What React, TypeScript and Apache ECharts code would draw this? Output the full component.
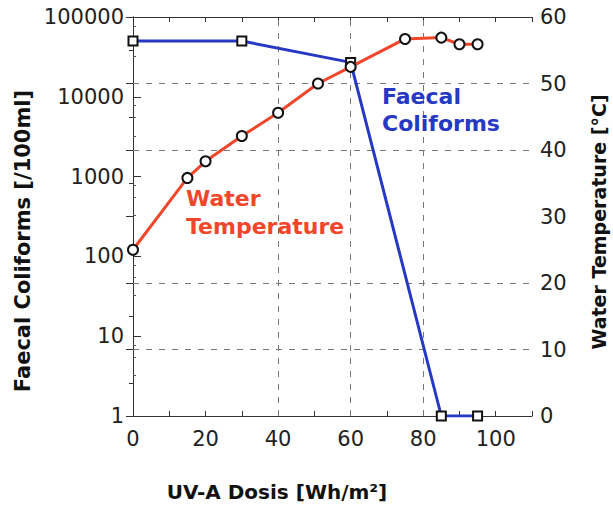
import React, { useEffect, useRef } from "react";
import * as echarts from "echarts";

// UV-A dose [Wh/m2] for each measurement
const coliformDose = [0, 30, 60, 85, 95];
const coliformValues = [50000, 50000, 27000, 1, 1];

const tempDose = [0, 15, 20, 30, 40, 51, 60, 75, 85, 90, 95];
const tempValues = [25, 35.8, 38.3, 42.1, 45.6, 50, 52.5, 56.7, 56.9, 55.9, 55.9];

const xTickLabels = [0, 20, 40, 60, 80, 100];
const leftTickLabels = [1, 10, 100, 1000, 10000, 100000];
const rightTickLabels = [0, 10, 20, 30, 40, 50, 60];

const hGridTemps = [10, 20, 40, 50];
const vGridDoses = [40, 60, 80];

const RED = "#f2462b";
const BLUE = "#2638c4";
const TXT = "#222";
const FONT = "DejaVu Sans";

export default function App() {
  const ref = useRef<HTMLDivElement>(null);
  useEffect(() => {
    if (!ref.current) return;
    const chart = echarts.init(ref.current, null, { renderer: "svg" });
    const gridL = 133, gridR = 81, gridT = 17, gridB = 94;
    const tickLabel = { fontFamily: FONT, fontSize: 21, color: TXT };
    chart.setOption({
      animation: false,
      backgroundColor: "#ffffff",
      grid: { left: gridL, right: gridR, top: gridT, bottom: gridB },
      xAxis: [
        {
          type: "value",
          min: 0,
          max: 110,
          interval: 10,
          position: "bottom",
          axisLine: { show: true, lineStyle: { color: "#333", width: 1 } },
          axisTick: { show: true, inside: true, length: 5, lineStyle: { color: "#333" } },
          axisLabel: {
            ...tickLabel,
            margin: 12,
            formatter: (v: number) => (xTickLabels.includes(v) ? String(v) : ""),
          },
          splitLine: { show: false },
        },
        {
          type: "value",
          min: 0,
          max: 110,
          interval: 10,
          position: "top",
          axisLine: { show: true, lineStyle: { color: "#333", width: 1 } },
          axisTick: { show: true, inside: true, length: 5, lineStyle: { color: "#333" } },
          axisLabel: { show: false },
          splitLine: { show: false },
        },
      ],
      yAxis: [
        {
          type: "log",
          logBase: 10,
          min: 1,
          max: 100000,
          splitNumber: 5,
          position: "left",
          axisLine: { show: true, lineStyle: { color: "#333", width: 1 } },
          axisTick: { show: true, inside: true, length: 8, lineStyle: { color: "#333" } },
          minorTick: { show: true, splitNumber: 4, length: 3, lineStyle: { color: "#555" } },
          axisLabel: {
            ...tickLabel,
            margin: 9,
            formatter: (v: number) => {
              const r = Math.round(v);
              return leftTickLabels.includes(r) ? String(r) : "";
            },
          },
          splitLine: { show: false },
        },
        {
          type: "value",
          min: 0,
          max: 60,
          interval: 10,
          position: "right",
          axisLine: { show: true, lineStyle: { color: "#333", width: 1 } },
          axisTick: { show: true, inside: true, length: 7, lineStyle: { color: "#333" } },
          minorTick: { show: true, splitNumber: 2, length: 4, lineStyle: { color: "#333" } },
          axisLabel: {
            ...tickLabel,
            margin: 8,
            formatter: (v: number) => (rightTickLabels.includes(v) ? String(v) : ""),
          },
          splitLine: { show: false },
        },
      ],
      series: [
        {
          name: "Faecal Coliforms",
          type: "line",
          xAxisIndex: 0,
          yAxisIndex: 0,
          data: coliformDose.map((d, i) => [d, coliformValues[i]]),
          symbol: "rect",
          symbolSize: 9,
          lineStyle: { color: BLUE, width: 3 },
          itemStyle: { color: "#fff", borderColor: "#111", borderWidth: 2 },
          z: 3,
        },
        {
          name: "Water Temperature",
          type: "line",
          xAxisIndex: 0,
          yAxisIndex: 1,
          data: tempDose.map((d, i) => [d, tempValues[i]]),
          symbol: "circle",
          symbolSize: 10,
          lineStyle: { color: RED, width: 3 },
          itemStyle: { color: "#fff", borderColor: "#111", borderWidth: 2 },
          z: 4,
          markLine: {
            silent: true,
            symbol: "none",
            label: { show: false },
            lineStyle: { color: "#777", type: [6, 7], width: 1 },
            data: [
              ...hGridTemps.map((t) => ({ yAxis: t })),
              ...vGridDoses.map((d) => ({ xAxis: d })),
            ],
            z: 1,
          },
        },
      ],
      graphic: [
        {
          type: "text",
          x: 186,
          y: 212,
          style: {
            text: "Water\nTemperature",
            fill: RED,
            font: `bold 22px "${FONT}"`,
            lineHeight: 28,
            verticalAlign: "middle",
          },
          z: 10,
        },
        {
          type: "text",
          x: 382,
          y: 110,
          style: {
            text: "Faecal\nColiforms",
            fill: BLUE,
            font: `bold 22px "${FONT}"`,
            lineHeight: 27,
            verticalAlign: "middle",
          },
          z: 10,
        },
        {
          type: "text",
          x: 277,
          y: 492,
          style: {
            text: "UV-A Dosis [Wh/m²]",
            fill: "#111",
            font: `bold 20px "${FONT}"`,
            align: "center",
            verticalAlign: "middle",
          },
        },
        {
          type: "text",
          x: 23,
          y: 241,
          rotation: Math.PI / 2,
          style: {
            text: "Faecal Coliforms [/100ml]",
            fill: "#111",
            font: `bold 21px "${FONT}"`,
            align: "center",
            verticalAlign: "middle",
          },
        },
        {
          type: "text",
          x: 599,
          y: 222,
          rotation: Math.PI / 2,
          style: {
            text: "Water Temperature [°C]",
            fill: "#111",
            font: `bold 19px "${FONT}"`,
            align: "center",
            verticalAlign: "middle",
          },
        },
      ],
    });
    return () => chart.dispose();
  }, []);
  return (
    <div
      ref={ref}
      style={{ position: "absolute", left: 0, top: 0, width: 613, height: 510 }}
    />
  );
}
